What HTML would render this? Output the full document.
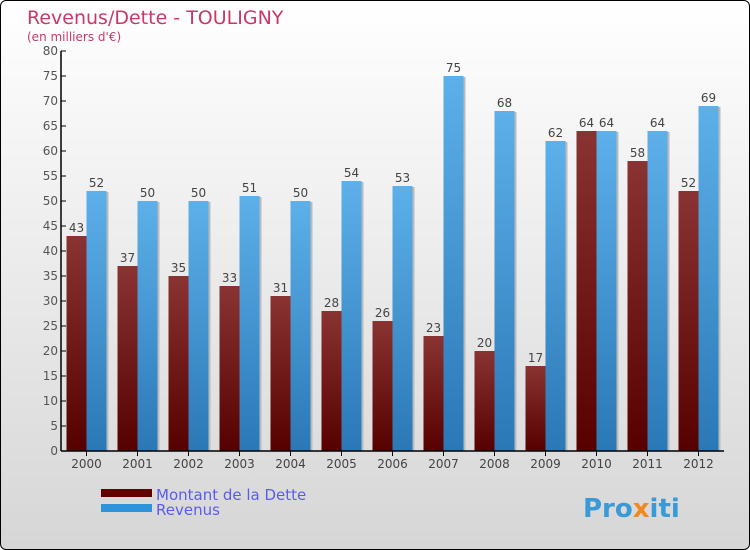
<!DOCTYPE html>
<html><head><meta charset="utf-8"><style>
body{margin:0}
#c{width:748px;height:548px;border:1px solid #000;border-radius:6px;overflow:hidden;background:linear-gradient(#ffffff,#d6d6d6);position:relative;font-family:"DejaVu Sans","Liberation Sans",sans-serif}
</style></head><body>
<div id="c">
<svg id="s" width="748" height="548">
<defs>
<linearGradient id="gd" x1="0" y1="0" x2="0" y2="1"><stop offset="0" stop-color="#8a3333"/><stop offset="1" stop-color="#560000"/></linearGradient>
<linearGradient id="gr" x1="0" y1="0" x2="0" y2="1"><stop offset="0" stop-color="#5db0ea"/><stop offset="1" stop-color="#2a78b6"/></linearGradient>
</defs>
<text x="26" y="23" font-size="19" fill="#c8386a">Revenus/Dette - TOULIGNY</text>
<text x="26" y="40" font-size="12" fill="#c8386a">(en milliers d'€)</text>
<g id="g"></g>
<rect x="100" y="488" width="51" height="8" fill="#600000"/>
<rect x="100" y="503" width="51" height="8" fill="#2e93db"/>
<text x="155" y="499" font-size="15" fill="#5b5bf0">Montant de la Dette</text>
<text x="155" y="514" font-size="15" fill="#5b5bf0">Revenus</text>
<text x="582" y="516" font-size="26" font-weight="bold" fill="#3a9ad8">Pro<tspan fill="#f08a20">x</tspan>iti</text>
</svg></div>
<script>
const years=["2000","2001","2002","2003","2004","2005","2006","2007","2008","2009","2010","2011","2012"];
const dette=[43,37,35,33,31,28,26,23,20,17,64,58,52];
const revenus=[52,50,50,51,50,54,53,75,68,62,64,64,69];
const yTicks=[0,5,10,15,20,25,30,35,40,45,50,55,60,65,70,75,80];
const g=document.getElementById('g');const NS="http://www.w3.org/2000/svg";
const x0=60,gw=51,y0=450,ppu=5;
const Y=v=>y0-v*ppu;
function mk(t,a,txt){const e=document.createElementNS(NS,t);for(const k in a)e.setAttribute(k,a[k]);if(txt!=null)e.textContent=txt;g.appendChild(e);return e;}
yTicks.forEach(v=>{
 const l=mk('line',{x1:x0,x2:x0+5,y1:Y(v),y2:Y(v),stroke:'#000'});
 
 
 const t=mk('text',{x:x0-3,y:Y(v)+4,'font-size':12,'text-anchor':'end',fill:'#555'},v);
 
 
});
years.forEach((yr,i)=>{
 const cx=x0+gw*i+gw/2;
 [[dette[i],'url(#gd)',cx-20,'bar-dette'],[revenus[i],'url(#gr)',cx,'bar-revenus']].forEach(([v,f,bx,n])=>{
  const sh=mk('rect',{x:bx+2,y:Y(v)+1,width:20,height:v*ppu-1,fill:'#bbb'});
  
  
  const r=mk('rect',{x:bx,y:Y(v),width:20,height:v*ppu,fill:f});
  
  
  const t=mk('text',{x:bx+10,y:Y(v)-4,'font-size':12,'text-anchor':'middle',fill:'#444'},v);
  
  
 });
 const tk=mk('line',{x1:cx,x2:cx,y1:y0,y2:y0+5,stroke:'#000'});
 
 
 const t=mk('text',{x:cx,y:y0+17,'font-size':12,'text-anchor':'middle',fill:'#444'},yr);
 
 
});
const ya=mk('line',{x1:x0,x2:x0,y1:Y(80),y2:y0,stroke:'#000','stroke-width':1.5});


const xa=mk('line',{x1:x0,x2:x0+gw*13,y1:y0,y2:y0,stroke:'#000','stroke-width':1.5});


</script>
</body></html>
